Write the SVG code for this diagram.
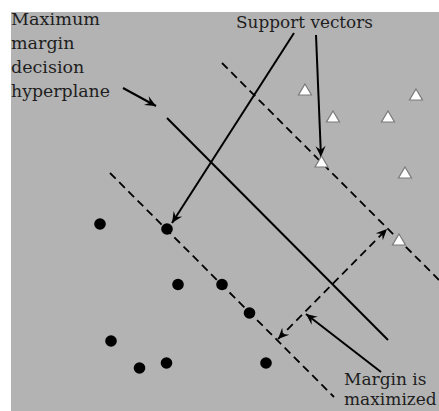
<svg xmlns="http://www.w3.org/2000/svg" width="439" height="411" viewBox="0 0 439 411">
<style>
.lbl{font-family:"DejaVu Serif","Liberation Serif",serif;font-size:17.5px;fill:#1e1e1e}
.sm{font-size:17px}
.ln{stroke:#000;stroke-width:2;fill:none}
.dash{stroke:#000;stroke-width:1.8;fill:none;stroke-dasharray:8 5}
.pt{fill:#000}
.tri{fill:#fff;stroke:#7a7a7a;stroke-width:1.2}
</style>
<defs>
<marker id="ah" viewBox="-12 -6 13 12" refX="0" refY="0" markerWidth="13" markerHeight="12" markerUnits="userSpaceOnUse" orient="auto-start-reverse">
<path d="M0,0 L-11,-5 L-7,0 L-11,5 Z" fill="#000"/>
</marker>
</defs>
<rect x="11" y="12" width="428" height="399" fill="#b3b3b3"/>
<g id="hyperplanes">
<line class="ln" x1="167" y1="118" x2="388" y2="340"/>
<line class="dash" x1="222" y1="63" x2="439" y2="280"/>
<line class="dash" x1="110" y1="173" x2="334" y2="397"/>
</g>
<g id="connectors">
<line class="ln" x1="123" y1="88" x2="156" y2="106" marker-end="url(#ah)"/>
<line class="ln" x1="294" y1="33" x2="172" y2="223" marker-end="url(#ah)"/>
<line class="ln" x1="316" y1="35" x2="321" y2="157" marker-end="url(#ah)"/>
<line class="dash" x1="278" y1="339" x2="387" y2="229" marker-start="url(#ah)" marker-end="url(#ah)"/>
<line class="ln" x1="381" y1="372" x2="306" y2="314" marker-end="url(#ah)"/>
</g>
<g id="class-circles">
<g id="c1"><circle class="pt" cx="100" cy="224" r="5.8"/></g>
<g id="c2"><circle class="pt" cx="167" cy="229" r="5.8"/></g>
<g id="c3"><circle class="pt" cx="178" cy="284.5" r="5.8"/></g>
<g id="c4"><circle class="pt" cx="222" cy="284.5" r="5.8"/></g>
<g id="c5"><circle class="pt" cx="249.5" cy="313" r="5.8"/></g>
<g id="c6"><circle class="pt" cx="111" cy="341" r="5.8"/></g>
<g id="c7"><circle class="pt" cx="139.5" cy="368" r="5.8"/></g>
<g id="c8"><circle class="pt" cx="166.5" cy="363" r="5.8"/></g>
<g id="c9"><circle class="pt" cx="266" cy="363" r="5.8"/></g>
</g>
<g id="class-triangles">
<g id="t1"><path class="tri" d="M305,84 L311.5,95 L298.5,95 Z"/></g>
<g id="t2"><path class="tri" d="M333,111 L339.5,122 L326.5,122 Z"/></g>
<g id="t3"><path class="tri" d="M388,111 L394.5,122 L381.5,122 Z"/></g>
<g id="t4"><path class="tri" d="M416,89 L422.5,100 L409.5,100 Z"/></g>
<g id="t5"><path class="tri" d="M321.5,156 L328,167 L315,167 Z"/></g>
<g id="t6"><path class="tri" d="M405,167 L411.5,178 L398.5,178 Z"/></g>
<g id="t7"><path class="tri" d="M399,234 L405.5,245 L392.5,245 Z"/></g>
</g>
<g id="labels">
<text class="lbl" x="11" y="25" textLength="89" lengthAdjust="spacingAndGlyphs">Maximum</text>
<text class="lbl" x="11" y="49">margin</text>
<text class="lbl" x="11" y="73">decision</text>
<text class="lbl" x="11" y="97" textLength="99" lengthAdjust="spacingAndGlyphs">hyperplane</text>
<text class="lbl" x="236" y="28" textLength="137" lengthAdjust="spacingAndGlyphs">Support vectors</text>
<text class="lbl sm" x="344" y="385">Margin is</text>
<text class="lbl sm" x="344" y="405">maximized</text>
</g>
</svg>
